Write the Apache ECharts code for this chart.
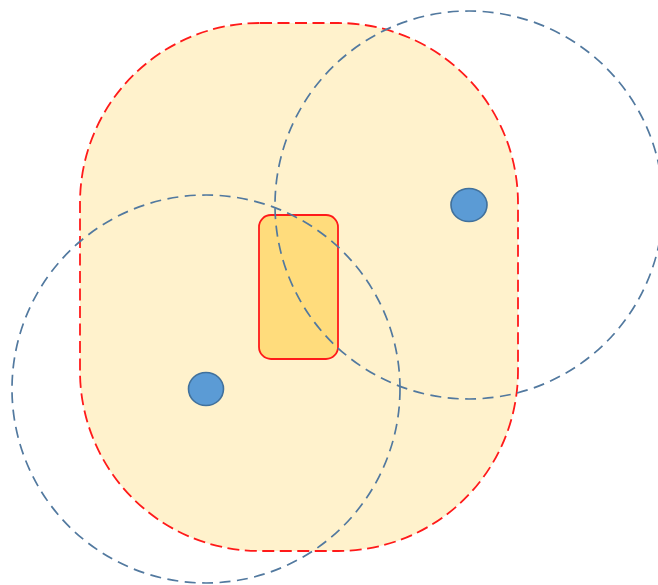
<!DOCTYPE html>
<html>
<head>
<meta charset="utf-8">
<script src="https://cdn.jsdelivr.net/npm/echarts@6/dist/echarts.min.js"></script>
<style>html,body{margin:0;padding:0;background:#fff}#c{width:658px;height:585px}</style>
</head>
<body>
<div id="c"></div>
<script>
// Diagram data (in the diagram's own coordinate units)
const outerZone = [[80, 23, 518, 551, 180]];      // x0, y0, x1, y1, corner radius
const innerZone = [[259, 215, 338, 359, 12]];
const rangeCircles = [[206, 389, 194], [469, 205, 194]]; // cx, cy, r
const nodes = [[206, 389, 17.5, 16.5], [469, 205, 18, 16.5]]; // cx, cy, rx, ry

const chart = echarts.init(document.getElementById('c'), null, {renderer: 'canvas'});

function roundRectItem(fill, stroke, dash, width) {
  return function (params, api) {
    const p0 = api.coord([api.value(0), api.value(1)]);
    const p1 = api.coord([api.value(2), api.value(3)]);
    const r = api.size([api.value(4), 0])[0];
    return {
      type: 'rect',
      shape: {x: p0[0], y: p0[1], width: p1[0] - p0[0], height: p1[1] - p0[1], r: r},
      style: {fill: fill, stroke: stroke, lineWidth: width, lineDash: dash}
    };
  };
}

chart.setOption({
  animation: false,
  grid: {left: 0, right: 0, top: 0, bottom: 0},
  xAxis: {type: 'value', min: 0, max: 658, show: false},
  yAxis: {type: 'value', min: 0, max: 585, inverse: true, show: false},
  series: [
    {
      type: 'custom', data: outerZone, z: 1,
      renderItem: roundRectItem('#FFF2CC', '#FF1A1A', [12, 5.5], 1.8)
    },
    {
      type: 'custom', data: innerZone, z: 2,
      renderItem: roundRectItem('#FFDC7C', '#FF1A1A', null, 1.8)
    },
    {
      type: 'custom', data: rangeCircles, z: 3,
      renderItem: function (params, api) {
        const c = api.coord([api.value(0), api.value(1)]);
        const r = api.size([api.value(2), 0])[0];
        return {
          type: 'circle',
          shape: {cx: c[0], cy: c[1], r: r},
          style: {fill: 'none', stroke: '#52799F', lineWidth: 1.7, lineDash: [11, 6.5]}
        };
      }
    },
    {
      type: 'custom', data: nodes, z: 4,
      renderItem: function (params, api) {
        const c = api.coord([api.value(0), api.value(1)]);
        const rx = api.size([api.value(2), 0])[0];
        const ry = api.size([0, api.value(3)])[1];
        return {
          type: 'circle',
          x: c[0], y: c[1],
          scaleX: rx / ry, scaleY: 1,
          shape: {cx: 0, cy: 0, r: ry},
          style: {fill: '#5B9BD5', stroke: '#41719C', lineWidth: 1.5, strokeNoScale: true}
        };
      }
    }
  ]
});
</script>
</body>
</html>
